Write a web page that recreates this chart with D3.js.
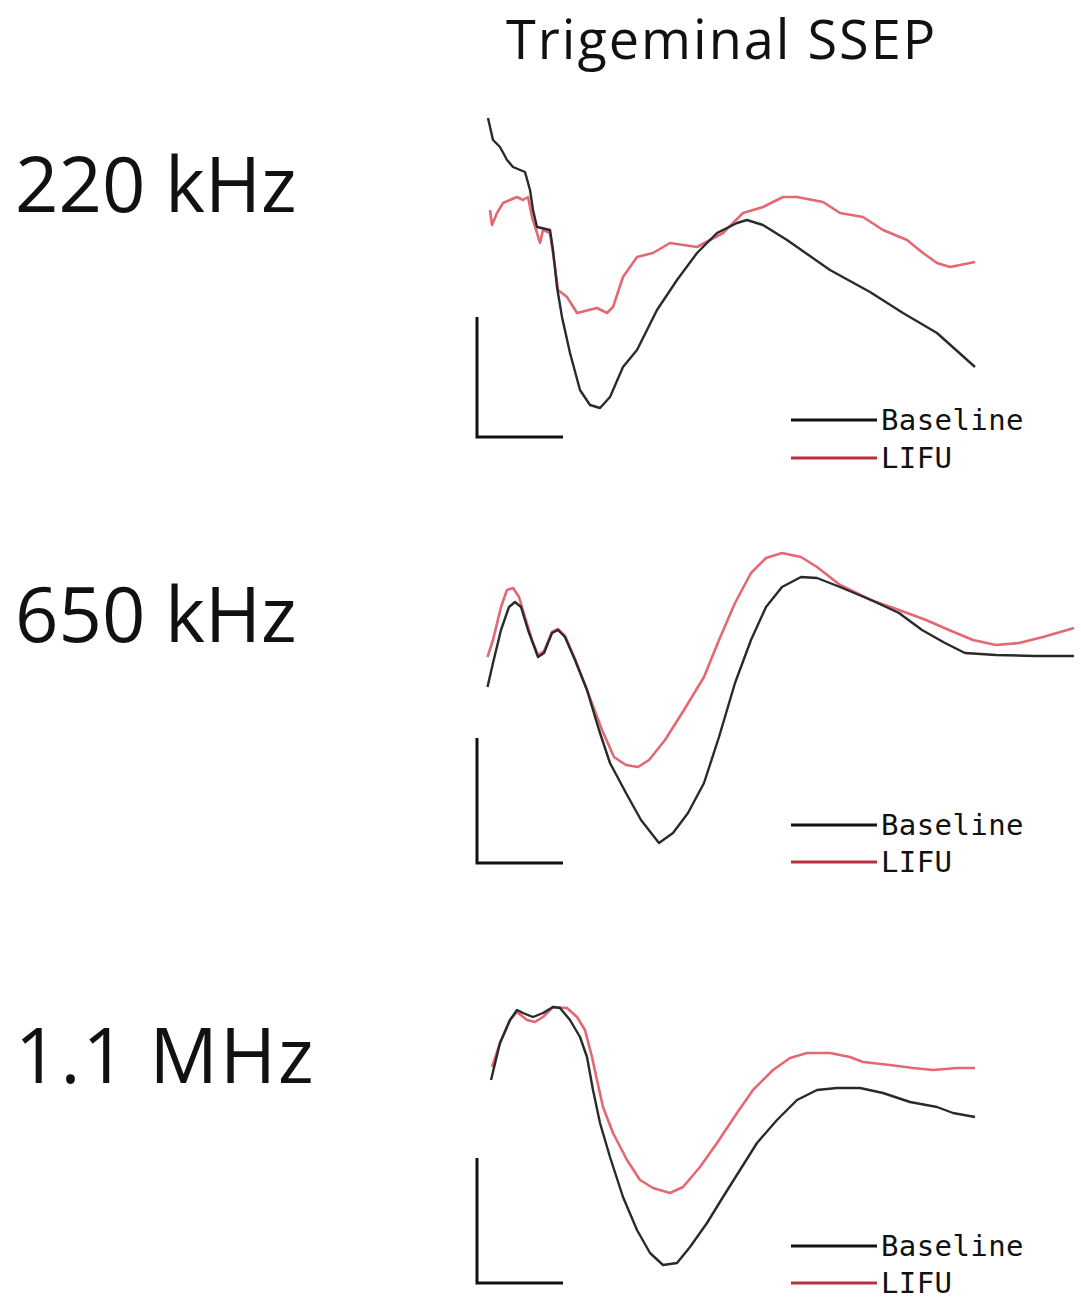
<!DOCTYPE html>
<html>
<head>
<meta charset="utf-8">
<script src="https://cdn.jsdelivr.net/npm/d3@7"></script>
<style>
  html, body { margin: 0; padding: 0; background: #fff; }
  svg { display: block; }
</style>
</head>
<body>
<div id="chart"></div>
<script>
// Values: time in ms, amplitude in uV (arbitrary offset)
var panelLabels = ['220 kHz', '650 kHz', '1.1 MHz'];
var seriesNames = ['Baseline', 'LIFU'];

// 220 kHz
var t220Base = [1.1, 1.6, 2.3, 3.0, 3.6, 4.8, 5.3, 5.6, 6.0, 7.3, 7.6, 8.0, 8.5, 9.3, 10.3, 11.3, 12.3, 13.3, 14.6, 16.0, 18.0, 20.0, 22.0, 24.0, 26.0, 27.0, 28.6, 31.0, 35.3, 39.3, 42.6, 46.0, 49.8];
var v220Base = [31.9, 29.7, 29.0, 27.7, 27.0, 26.5, 24.7, 22.7, 21.0, 20.7, 18.7, 15.0, 12.0, 8.4, 4.7, 3.2, 2.9, 4.0, 7.0, 8.7, 12.7, 15.7, 18.4, 20.4, 21.4, 21.7, 21.2, 19.7, 16.7, 14.5, 12.4, 10.4, 7.0];
var t220Lifu = [1.3, 1.5, 2.0, 2.6, 3.3, 4.0, 4.6, 5.1, 5.5, 6.0, 6.3, 6.6, 7.3, 7.8, 8.1, 9.0, 10.0, 12.0, 13.0, 13.6, 14.6, 16.0, 17.6, 19.3, 22.0, 23.3, 24.6, 26.6, 28.6, 30.6, 32.0, 34.6, 36.3, 38.6, 40.6, 43.0, 44.6, 46.0, 47.3, 49.8];
var v220Lifu = [22.7, 21.2, 22.4, 23.4, 23.7, 24.0, 23.7, 24.0, 22.0, 20.4, 19.4, 20.7, 20.4, 17.0, 14.7, 14.0, 12.4, 12.9, 12.4, 13.0, 16.0, 18.0, 18.4, 19.4, 19.0, 19.7, 20.4, 22.4, 23.0, 24.0, 24.0, 23.5, 22.4, 22.0, 20.7, 19.7, 18.4, 17.4, 17.0, 17.5];

// 650 kHz
var t650Base = [1.05, 1.6, 2.4, 3.2, 3.8, 4.4, 5.1, 6.1, 6.7, 7.5, 8.1, 8.8, 9.8, 11.0, 12.2, 13.3, 14.9, 16.4, 18.2, 19.6, 21.1, 22.7, 24.2, 25.8, 27.4, 28.9, 30.5, 32.4, 34.0, 36.3, 39.4, 42.2, 44.5, 46.8, 48.8, 51.9, 55.8, 59.7];
var v650Base = [17.6, 20.0, 23.3, 25.6, 26.1, 25.6, 23.3, 20.6, 21.0, 23.0, 23.3, 22.6, 20.3, 17.3, 13.3, 10.0, 7.0, 4.3, 2.0, 3.0, 5.0, 8.0, 12.6, 18.0, 22.3, 25.6, 27.6, 28.6, 28.5, 27.6, 26.3, 25.0, 23.3, 22.0, 21.0, 20.8, 20.7, 20.7];
var t650Lifu = [1.05, 1.6, 2.4, 3.0, 3.6, 4.2, 4.8, 5.5, 6.1, 6.7, 7.5, 8.1, 8.8, 9.8, 11.0, 12.5, 13.7, 14.9, 16.1, 17.2, 18.8, 20.7, 22.7, 24.2, 25.8, 27.4, 28.9, 30.5, 32.4, 34.0, 36.3, 39.4, 42.2, 44.9, 47.2, 49.6, 51.9, 54.2, 56.6, 59.7];
var v650Lifu = [20.6, 22.3, 25.6, 27.3, 27.5, 26.6, 24.6, 22.3, 20.8, 21.2, 23.1, 23.4, 22.7, 20.4, 17.3, 13.3, 10.6, 9.8, 9.6, 10.3, 12.3, 15.3, 18.6, 22.3, 26.0, 29.0, 30.5, 31.0, 30.6, 29.6, 27.8, 26.3, 25.3, 24.3, 23.3, 22.3, 21.8, 22.0, 22.6, 23.5];

// 1.1 MHz
var t1100Base = [1.4, 2.3, 3.3, 4.0, 4.6, 5.6, 6.6, 7.6, 8.3, 9.3, 10.3, 11.0, 11.6, 12.3, 13.3, 14.6, 16.0, 17.3, 18.6, 20.0, 21.3, 23.0, 24.6, 26.3, 28.0, 30.0, 32.0, 34.0, 36.0, 38.3, 40.6, 43.3, 46.0, 47.6, 49.8];
var v1100Base = [20.3, 24.0, 26.3, 27.3, 27.0, 26.6, 27.0, 27.6, 27.5, 26.3, 24.6, 22.6, 19.3, 16.0, 12.6, 8.6, 5.3, 3.0, 1.8, 2.0, 3.6, 6.0, 8.6, 11.3, 14.0, 16.3, 18.3, 19.3, 19.5, 19.5, 19.0, 18.1, 17.6, 17.0, 16.6];
var t1100Lifu = [1.5, 2.3, 3.3, 4.0, 5.0, 5.8, 6.6, 7.6, 9.0, 10.0, 10.8, 11.5, 12.0, 12.6, 13.6, 15.0, 16.3, 17.6, 19.3, 20.6, 22.3, 24.0, 26.0, 27.6, 29.6, 31.3, 33.0, 35.3, 37.3, 38.6, 41.3, 43.6, 45.6, 48.0, 49.8];
var v1100Lifu = [21.6, 24.0, 26.3, 27.1, 26.3, 26.1, 26.6, 27.6, 27.5, 26.6, 25.3, 22.6, 20.3, 17.6, 15.0, 12.3, 10.3, 9.5, 9.0, 9.6, 11.6, 14.0, 17.0, 19.3, 21.3, 22.5, 23.0, 23.0, 22.6, 22.1, 21.8, 21.5, 21.3, 21.5, 21.5];

// scale bars (ms, uV)
var scaleBarMs = [8.6, 8.6, 8.6];
var scaleBarUv = [12.0, 12.5, 12.5];

var panels = [
    { label: panelLabels[0], base: [t220Base, v220Base], lifu: [t220Lifu, v220Lifu], bottom: 437, labelY: 212, legY: 420, legGap: 38 },
    { label: panelLabels[1], base: [t650Base, v650Base], lifu: [t650Lifu, v650Lifu], bottom: 863, labelY: 642, legY: 825, legGap: 37 },
    { label: panelLabels[2], base: [t1100Base, v1100Base], lifu: [t1100Lifu, v1100Lifu], bottom: 1283, labelY: 1083, legY: 1246, legGap: 37 }
];

var width = 1081, height = 1302;
var black = '#2a2a2a', red = '#e46872';

var svg = d3.select('#chart').append('svg')
    .attr('width', width)
    .attr('height', height);

// Title
svg.append('text')
    .attr('x', 506)
    .attr('y', 59)
    .attr('font-family', 'Open Sans')
    .attr('font-size', 54)
    .attr('letter-spacing', 2)
    .attr('fill', '#111')
    .text('Trigeminal SSEP');

// shared time scale
var x = d3.scaleLinear().domain([0, 60]).range([477, 1077]);

function zip(pair) {
    return pair[0].map(function(t, i) { return [t, pair[1][i]]; });
}

panels.forEach(function(p, i) {
    var y = d3.scaleLinear().domain([0, 36]).range([p.bottom, p.bottom - 360]);

    var line = d3.line()
        .x(function(d) { return x(d[0]); })
        .y(function(d) { return y(d[1]); });

    var g = svg.append('g');

    // frequency label
    g.append('text')
        .attr('x', 15)
        .attr('y', p.labelY)
        .attr('font-family', 'Open Sans')
        .attr('font-size', 76)
        .attr('letter-spacing', i === 2 ? 2 : 0)
        .attr('fill', '#111')
        .text(p.label);

    // scale bar
    g.append('path')
        .attr('d', 'M' + x(0) + ',' + y(scaleBarUv[i]) + 'V' + y(0) + 'H' + x(scaleBarMs[i]))
        .attr('fill', 'none')
        .attr('stroke', '#111')
        .attr('stroke-width', 3);

    // traces, red first so black shows where they overlap
    g.append('path')
        .datum(zip(p.lifu))
        .attr('d', line)
        .attr('fill', 'none')
        .attr('stroke', red)
        .attr('stroke-width', 2.6)
        .attr('stroke-linejoin', 'round');

    g.append('path')
        .datum(zip(p.base))
        .attr('d', line)
        .attr('fill', 'none')
        .attr('stroke', black)
        .attr('stroke-width', 2.4)
        .attr('stroke-linejoin', 'round');

    // legend
    var leg = g.append('g');
    seriesNames.forEach(function(name, k) {
        var ly = p.legY + k * p.legGap;
        leg.append('line')
            .attr('x1', 791).attr('x2', 877)
            .attr('y1', ly).attr('y2', ly)
            .attr('stroke', k === 0 ? '#111' : '#b8303c')
            .attr('stroke-width', 3);
        leg.append('text')
            .attr('x', 881)
            .attr('y', ly + 10)
            .attr('font-family', 'DejaVu Sans Mono')
            .attr('font-size', 29)
            .attr('letter-spacing', 0.4)
            .attr('fill', '#111')
            .text(name);
    });
});
</script>
</body>
</html>
